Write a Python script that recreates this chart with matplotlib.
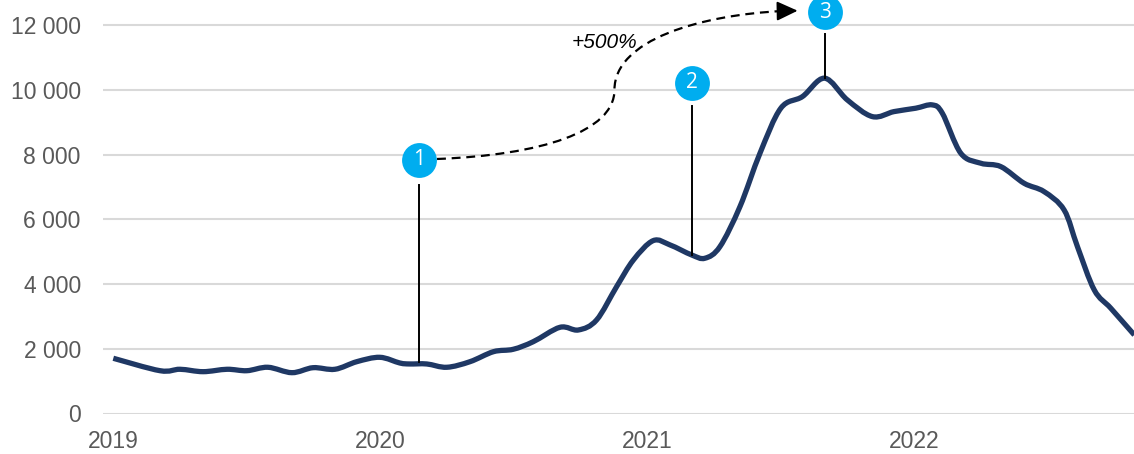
import matplotlib
matplotlib.use("Agg")
import matplotlib.pyplot as plt
from matplotlib.path import Path
from matplotlib.patches import PathPatch

# ---- data (decimal years, values) ----
dates = [2019.00, 2019.175, 2019.25, 2019.336, 2019.426, 2019.50, 2019.579, 2019.669,
         2019.748, 2019.830, 2019.912, 2019.998, 2020.073, 2020.110, 2020.174, 2020.249,
         2020.336, 2020.424, 2020.498, 2020.573, 2020.673, 2020.742, 2020.810, 2020.885,
         2020.948, 2021.022, 2021.085, 2021.166, 2021.216, 2021.272, 2021.347, 2021.422,
         2021.500, 2021.581, 2021.664, 2021.749, 2021.843, 2021.924, 2022.005, 2022.067,
         2022.105, 2022.174, 2022.249, 2022.324, 2022.411, 2022.486, 2022.561, 2022.611,
         2022.674, 2022.736, 2022.824]
values = [1706, 1322, 1366, 1292, 1366, 1322, 1428, 1261,
          1415, 1366, 1601, 1736, 1560, 1530, 1530, 1428,
          1601, 1910, 1984, 2219, 2663, 2580, 2889, 3918,
          4743, 5340, 5207, 4898, 4796, 5154, 6390, 8040,
          9430, 9790, 10358, 9687, 9171, 9326, 9430, 9533,
          9276, 8040, 7731, 7626, 7113, 6854, 6288, 5154,
          3816, 3251, 2426]

year_ticks = [2019, 2020, 2021, 2022]
year_labels = ["2019", "2020", "2021", "2022"]
y_ticks = [0, 2000, 4000, 6000, 8000, 10000, 12000]
y_labels = ["0", "2 000", "4 000", "6 000", "8 000", "10 000", "12 000"]

# annotations
marker_labels = ["1", "2", "3"]
marker_x = [2020.146, 2021.169, 2021.664]
marker_y = [7831, 10219, 12394]
stem_top = [7058, 9500, 11724]
stem_bottom = [1591, 4897, 10365]
growth_text = "+500%"

NAVY = "#1f3864"
CYAN = "#00adef"
GREY = "#595959"

plt.rcParams['font.family'] = ['Liberation Sans', 'DejaVu Sans']

fig = plt.figure(figsize=(11.34, 4.54), dpi=100)
ax = fig.add_axes([103/1134, (454-413.5)/454, 1031/1134, 413.5/454])
ax.set_xlim(2018.9614, 2022.8228)
ax.set_ylim(0, 12773)

ax.set_yticks(y_ticks)
ax.set_yticklabels(y_labels)
ax.set_xticks(year_ticks)
ax.set_xticklabels(year_labels)
ax.tick_params(axis='both', length=0, labelsize=16.5, labelcolor=GREY)
ax.tick_params(axis='y', pad=16)
ax.tick_params(axis='x', pad=12)
for s in ax.spines.values():
    s.set_visible(False)
ax.yaxis.grid(True, color='#d9d9d9', lw=1.5)
ax.set_axisbelow(True)

# smoothed line (Catmull-Rom through the data points, drawn as Bezier path)
pts = list(zip(dates, values))
n = len(pts)
verts = [pts[0]]
codes = [Path.MOVETO]
for i in range(n - 1):
    p0 = pts[i - 1] if i > 0 else pts[i]
    p1 = pts[i]
    p2 = pts[i + 1]
    p3 = pts[i + 2] if i + 2 < n else pts[i + 1]
    c1 = (p1[0] + (p2[0] - p0[0]) / 6, p1[1] + (p2[1] - p0[1]) / 6)
    c2 = (p2[0] - (p3[0] - p1[0]) / 6, p2[1] - (p3[1] - p1[1]) / 6)
    verts += [c1, c2, p2]
    codes += [Path.CURVE4] * 3
line_patch = PathPatch(Path(verts, codes), fill=False, edgecolor=NAVY, lw=3.8,
                       joinstyle='round', capstyle='butt', zorder=3)
ax.add_patch(line_patch)

# stems
for x, t, b in zip(marker_x, stem_top, stem_bottom):
    ax.plot([x, x], [b, t], color='black', lw=1.4, zorder=4, clip_on=False)

# dashed growth curve
gverts = [(2020.2124, 7862), (2020.60, 7985), (2020.877, 8700), (2020.877, 10000),
          (2020.877, 11538), (2021.197, 12310), (2021.508, 12433)]
gcodes = [Path.MOVETO, Path.CURVE4, Path.CURVE4, Path.CURVE4,
          Path.CURVE4, Path.CURVE4, Path.CURVE4]
ax.add_patch(PathPatch(Path(gverts, gcodes), fill=False, edgecolor='black', lw=1.6,
                       linestyle=(0, (4, 2.6)), zorder=4, clip_on=False))
ax.annotate('', xy=(2021.563, 12442), xytext=(2021.50, 12433),
            arrowprops=dict(arrowstyle='-|>,head_length=0.75,head_width=0.35',
                            color='black', lw=1.4, mutation_scale=17,
                            shrinkA=0, shrinkB=0),
            annotation_clip=False, zorder=5)
ax.text(2020.838, 11445, growth_text, fontsize=15, style='italic', color='black',
        ha='center', va='center', zorder=5)

# markers
ax.scatter(marker_x, marker_y, s=630, color=CYAN, zorder=6, clip_on=False, linewidths=0)
for lbl, x, y in zip(marker_labels, marker_x, marker_y):
    ax.text(x, y, lbl, color='white', fontsize=15, ha='center', va='center',
            family=['Open Sans', 'DejaVu Sans'], zorder=7)

fig.savefig("out.png", dpi=100)
